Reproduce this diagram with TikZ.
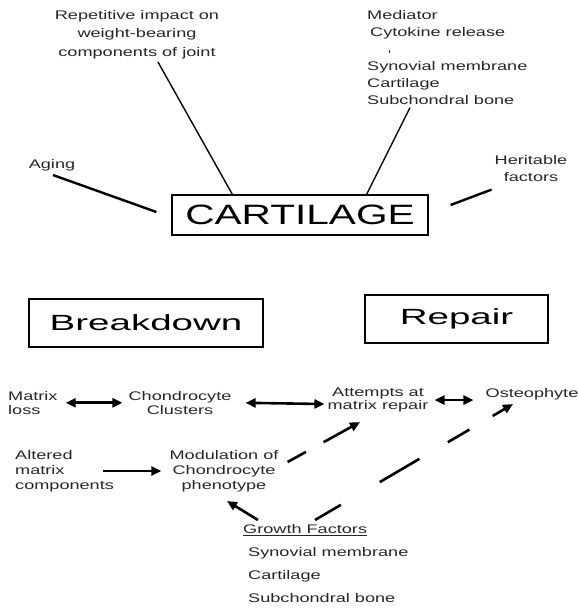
\documentclass[tikz,border=0pt]{standalone}
\usepackage{fontspec}
\setmainfont{Liberation Sans}[FakeStretch=1.45]
\newfontfamily\widefont{Liberation Sans}[FakeStretch=1.75]
\usetikzlibrary{arrows.meta,calc}
\begin{document}
\begin{tikzpicture}[x=1pt,y=-1pt,
  lbl/.style={inner sep=0pt, font=\fontsize{12.5}{14}\selectfont, text=black!85},
  toplbl/.style={inner sep=0pt, font=\fontsize{12.5}{18.5}\selectfont, text=black!85},
  bigbox/.style={draw, line width=1.3pt, inner sep=0pt},
  thinline/.style={line width=1.4pt},
  thickline/.style={line width=2.4pt},
  onearrow/.style={line width=2.6pt, -{Triangle[length=10pt,width=9pt]}},
  twoarrow/.style={line width=2.6pt, {Triangle[length=10pt,width=9pt]}-{Triangle[length=10pt,width=9pt]}},
]
\useasboundingbox (0,0) rectangle (578,608);

% top labels
\node[toplbl, align=center, anchor=north] (rep) at (137,10) {Repetitive impact on\\weight-bearing\\components of joint};
\node[lbl, anchor=center] (aging) at (52,165) {Aging};
\node[lbl, align=left, anchor=north west, font=\fontsize{12.5}{17}\selectfont] (med) at (367,10)
  {Mediator\\\hspace{3pt}Cytokine release\\\hspace{22pt}\rule{1pt}{3pt}\\Synovial membrane\\Cartilage\\Subchondral bone};
\node[lbl, align=center, anchor=north, font=\fontsize{12.5}{17}\selectfont] (her) at (531,155) {Heritable\\factors};

% central box
\node[bigbox, minimum width=256pt, minimum height=40pt, font=\fontsize{28}{30}\selectfont] (cart) at (300,215) {CARTILAGE};

% connectors to CARTILAGE
\draw[thinline] ($(rep.south)+(21,3)$) -- ($(cart.north west)+(61,0)$);
\draw[thickline] ($(aging.south)+(1,4)$) -- ($(cart.west)+(-15,-3)$);
\draw[thinline] ($(med.south west)+(43,3)$) -- ($(cart.north east)+(-62,0)$);
\draw[thickline] ($(cart.east)+(22,-10)$) -- ($(her.south west)+(-3,8)$);

% Breakdown / Repair
\node[bigbox, minimum width=234pt, minimum height=48pt, font=\widefont\fontsize{22}{24}\selectfont] (brk) at (146,323) {Breakdown};
\node[bigbox, minimum width=183pt, minimum height=48pt, font=\widefont\fontsize{22}{24}\selectfont] (rep2) at (456.5,319) {Repair};

% row 1
\node[lbl, align=left, anchor=north west] (mloss) at (8,391) {Matrix\\loss};
\node[lbl, align=center, anchor=north] (chon) at (180,391) {Chondrocyte\\Clusters};
\node[lbl, align=center, anchor=north, font=\fontsize{12.5}{12.5}\selectfont] (att) at (378,388) {Attempts at\\matrix repair};
\node[lbl, anchor=north] (ost) at (532,388) {Osteophyte};

\draw[twoarrow] ($(mloss.east)+(8,0)$) -- ($(chon.west)+(-6,0)$);
\draw[twoarrow] ($(chon.east)+(14,0)$) -- ($(att.west)+(-3,4)$);
\draw[twoarrow] ($(att.east)+(6,0)$) -- ($(att.east -| ost.west)+(-12,0)$);

% row 2
\node[lbl, align=left, anchor=north west, font=\fontsize{12.5}{15}\selectfont] (alt) at (15,450) {Altered\\matrix\\components};
\node[lbl, align=center, anchor=north, font=\fontsize{12.5}{15}\selectfont] (mod) at (224,450) {Modulation of\\Chondrocyte\\phenotype};
\draw[onearrow] ($(alt.east)+(-11,0)$) -- ($(mod.west)+(-8,0)$);

% growth factors
\node[lbl, align=left, anchor=north west, font=\fontsize{12.5}{23}\selectfont] (gf) at (243,524)
  {\underline{Growth Factors}\\\hspace{5pt}Synovial membrane\\\hspace{5pt}Cartilage\\\hspace{5pt}Subchondral bone};

\draw[onearrow] ($(gf.north west)+(15,-4)$) -- ($(mod.south)+(3,9)$);
\draw[onearrow, dash pattern=on 21pt off 20pt on 60pt off 1pt] ($(mod.north east)+(9,12)$) -- ($(att.south)+(-18,10)$);
\draw[onearrow, dash pattern=on 30pt off 45pt on 46pt off 33pt on 25pt off 27pt on 60pt off 1pt] ($(gf.north west)+(72,-4)$) -- ($(ost.south)+(-19,4)$);
\end{tikzpicture}
\end{document}
